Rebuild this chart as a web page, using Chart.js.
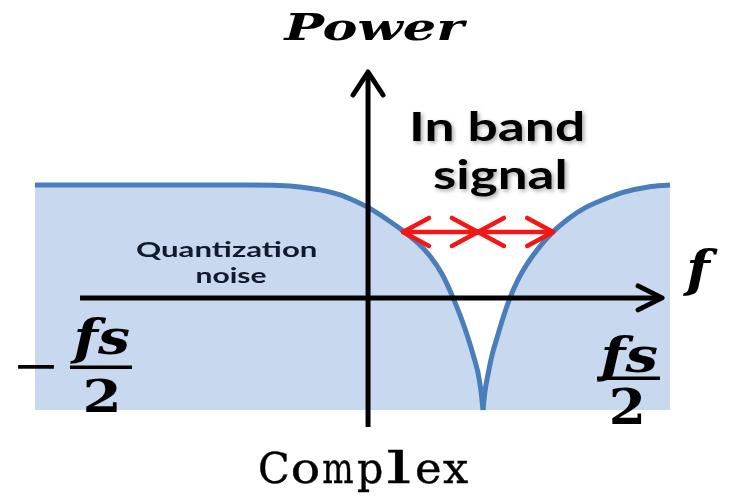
<!DOCTYPE html>
<html><head><meta charset="utf-8">
<script src="https://cdn.jsdelivr.net/npm/chart.js@4/dist/chart.umd.min.js"></script>
<style>html,body{margin:0;padding:0;background:#fff}#wrap{width:731px;height:497px;position:relative}</style>
</head><body><div id="wrap"><canvas id="c"></canvas></div>
<script>
// Normalised frequency: -1 = -fs/2 ... +1 = +fs/2 ; normalised noise power 0..1
const noiseLeftF  = [-1, -0.323, -0.228, -0.165, -0.102, -0.039, 0.008, 0.049, 0.102, 0.159, 0.206, 0.244, 0.282, 0.317, 0.342, 0.364, 0.383, 0.396, 0.405, 0.411];
const noiseLeftP  = [ 1,  1,      0.998,  0.991,  0.978,  0.956, 0.929, 0.900, 0.853, 0.796, 0.742, 0.684, 0.604, 0.498, 0.409, 0.320, 0.231, 0.160, 0.080, 0];
const noiseRightF = [0.411, 0.417, 0.427, 0.439, 0.455, 0.474, 0.496, 0.521, 0.550, 0.584, 0.628, 0.679, 0.732, 0.795, 0.858, 0.931, 1];
const noiseRightP = [0,     0.080, 0.160, 0.240, 0.320, 0.409, 0.498, 0.578, 0.649, 0.716, 0.787, 0.849, 0.898, 0.938, 0.969, 0.991, 1];
const fAxisSpan = [-0.858, 0.975];
const fAxisLevel = 0.498;
const powerAxisSpan = [-0.076, 1.502];
const powerAxisAt = 0.049;
const bandEdges = [0.159, 0.395, 0.632];
const bandLevel = 0.791;
const xRange = [-1.110, 1.192];
const yRange = [-0.387, 1.822];
const axisTitles = ['Power', 'f'];
const bandLabel = ['In band', 'signal'];
const noiseLabel = ['Quantization', 'noise'];
const edgeTickSigns = ['\u2212', ''];
const edgeTickNum = 'fs';
const edgeTickDen = '2';
const chartTitle = 'Complex';

const toPts = (fs, ps) => fs.map((f, i) => ({x: f, y: ps[i]}));

function fitText(ctx, s, font, x0, x1, base, color) {
  ctx.font = font; ctx.textAlign = 'left'; ctx.textBaseline = 'alphabetic';
  const m = ctx.measureText(s);
  const abl = m.actualBoundingBoxLeft, abr = m.actualBoundingBoxRight;
  const sx = (x1 - x0) / (abl + abr);
  ctx.save(); ctx.translate(x0, base); ctx.scale(sx, 1);
  ctx.fillStyle = color; ctx.fillText(s, abl, 0); ctx.restore();
  return m;
}

const overlay = {
  id: 'overlay',
  afterDatasetsDraw(chart) {
    const ctx = chart.ctx, xs = chart.scales.x, ys = chart.scales.y;
    const X = v => xs.getPixelForValue(v), Y = v => ys.getPixelForValue(v);
    ctx.save();
    // axes
    ctx.strokeStyle = '#000'; ctx.lineWidth = 5; ctx.lineCap = 'butt';
    const hy = Y(fAxisLevel), hx0 = X(fAxisSpan[0]), hx1 = X(fAxisSpan[1]);
    ctx.beginPath(); ctx.moveTo(hx0, hy); ctx.lineTo(hx1 - 3, hy); ctx.stroke();
    const vx = X(powerAxisAt), vy0 = Y(powerAxisSpan[0]), vy1 = Y(powerAxisSpan[1]);
    ctx.beginPath(); ctx.moveTo(vx, vy0); ctx.lineTo(vx, vy1 + 3); ctx.stroke();
    ctx.lineCap = 'round'; ctx.lineJoin = 'round';
    ctx.beginPath(); ctx.moveTo(hx1 - 24, hy - 12); ctx.lineTo(hx1, hy); ctx.lineTo(hx1 - 24, hy + 12); ctx.stroke();
    ctx.beginPath(); ctx.moveTo(vx - 15, vy1 + 23); ctx.lineTo(vx, vy1); ctx.lineTo(vx + 15, vy1 + 23); ctx.stroke();
    // in-band arrows
    ctx.strokeStyle = '#f21616'; ctx.lineWidth = 4.5;
    const by = Y(bandLevel);
    for (let i = 0; i < bandEdges.length - 1; i++) {
      const a = X(bandEdges[i]), b = X(bandEdges[i + 1]);
      ctx.beginPath(); ctx.moveTo(a, by); ctx.lineTo(b, by); ctx.stroke();
      ctx.beginPath(); ctx.moveTo(a + 26, by - 14); ctx.lineTo(a, by); ctx.lineTo(a + 26, by + 14); ctx.stroke();
      ctx.beginPath(); ctx.moveTo(b - 26, by - 14); ctx.lineTo(b, by); ctx.lineTo(b - 26, by + 14); ctx.stroke();
    }
    ctx.restore();

    // texts
    ctx.save();
    const serifBI = s => 'italic bold ' + s + 'px "DejaVu Serif"';
    fitText(ctx, axisTitles[0], serifBI(38), 283, 468, 39.5, '#000');
    fitText(ctx, axisTitles[1], serifBI(50), 683, 718, 286, '#000');
    ctx.save();
    ctx.shadowColor = 'rgba(0,0,0,0.35)'; ctx.shadowBlur = 4; ctx.shadowOffsetX = 2; ctx.shadowOffsetY = 2;
    fitText(ctx, bandLabel[0], 'bold 40px Lato', 413, 583, 141, '#000');
    fitText(ctx, bandLabel[1], 'bold 40px Lato', 433, 565, 189, '#000');
    ctx.restore();
    fitText(ctx, noiseLabel[0], 'bold 20px Lato', 136, 317, 256.5, '#111a2c');
    fitText(ctx, noiseLabel[1], 'bold 20px Lato', 197, 267, 283, '#111a2c');
    // edge tick labels (fractions)
    ctx.font = '48px "DejaVu Serif"';
    const mm = ctx.measureText(edgeTickSigns[0]);
    const minusBase = 367 + (mm.actualBoundingBoxAscent - mm.actualBoundingBoxDescent) / 2;
    fitText(ctx, edgeTickSigns[0], '48px "DejaVu Serif"', 18, 55, minusBase, '#000');
    fitText(ctx, edgeTickNum, serifBI(48), 70, 130, 354, '#000');
    fitText(ctx, edgeTickDen, 'bold 44px "DejaVu Serif"', 85, 117, 412, '#000');
    fitText(ctx, edgeTickNum, serifBI(48), 597, 658, 372, '#000');
    fitText(ctx, edgeTickDen, 'bold 48px "DejaVu Serif"', 612, 642, 424, '#000');
    ctx.fillStyle = '#000';
    ctx.fillRect(70, 365.5, 62, 3.5);
    ctx.fillRect(597, 376.5, 63, 3.5);
    // bottom title, monospace-like cells
    const cellCx = [274, 305.5, 338, 370, 399, 428.5, 455.5];
    const cellW = [28, 25, 30, 24, 22, 23, 25];
    ctx.font = '43px "DejaVu Serif"'; ctx.textAlign = 'left'; ctx.textBaseline = 'alphabetic';
    ctx.fillStyle = '#000'; ctx.strokeStyle = '#000'; ctx.lineWidth = 0.4;
    [...chartTitle].forEach((ch, i) => {
      const m = ctx.measureText(ch);
      const ink = m.actualBoundingBoxLeft + m.actualBoundingBoxRight;
      const sx = cellW[i] / ink;
      ctx.save(); ctx.translate(cellCx[i], 483); ctx.scale(sx, 1);
      const ox = -(m.actualBoundingBoxRight - m.actualBoundingBoxLeft) / 2;
      ctx.fillText(ch, ox, 0); ctx.strokeText(ch, ox, 0);
      ctx.restore();
    });
    ctx.restore();
  }
};

const ds = (pts) => ({
  data: pts, showLine: true, fill: {value: 0},
  borderColor: '#4a7ebb', borderWidth: 5, backgroundColor: '#c7d8ef',
  pointRadius: 0, cubicInterpolationMode: 'monotone'
});

new Chart(document.getElementById('c'), {
  type: 'line',
  data: { datasets: [ds(toPts(noiseLeftF, noiseLeftP)), ds(toPts(noiseRightF, noiseRightP))] },
  options: {
    responsive: true, maintainAspectRatio: false, animation: false, devicePixelRatio: 1,
    layout: { padding: 0 },
    plugins: { legend: { display: false }, tooltip: { enabled: false }, title: { display: false } },
    scales: {
      x: { type: 'linear', min: xRange[0], max: xRange[1], display: false },
      y: { type: 'linear', min: yRange[0], max: yRange[1], display: false }
    }
  },
  plugins: [overlay]
});
</script></body></html>
